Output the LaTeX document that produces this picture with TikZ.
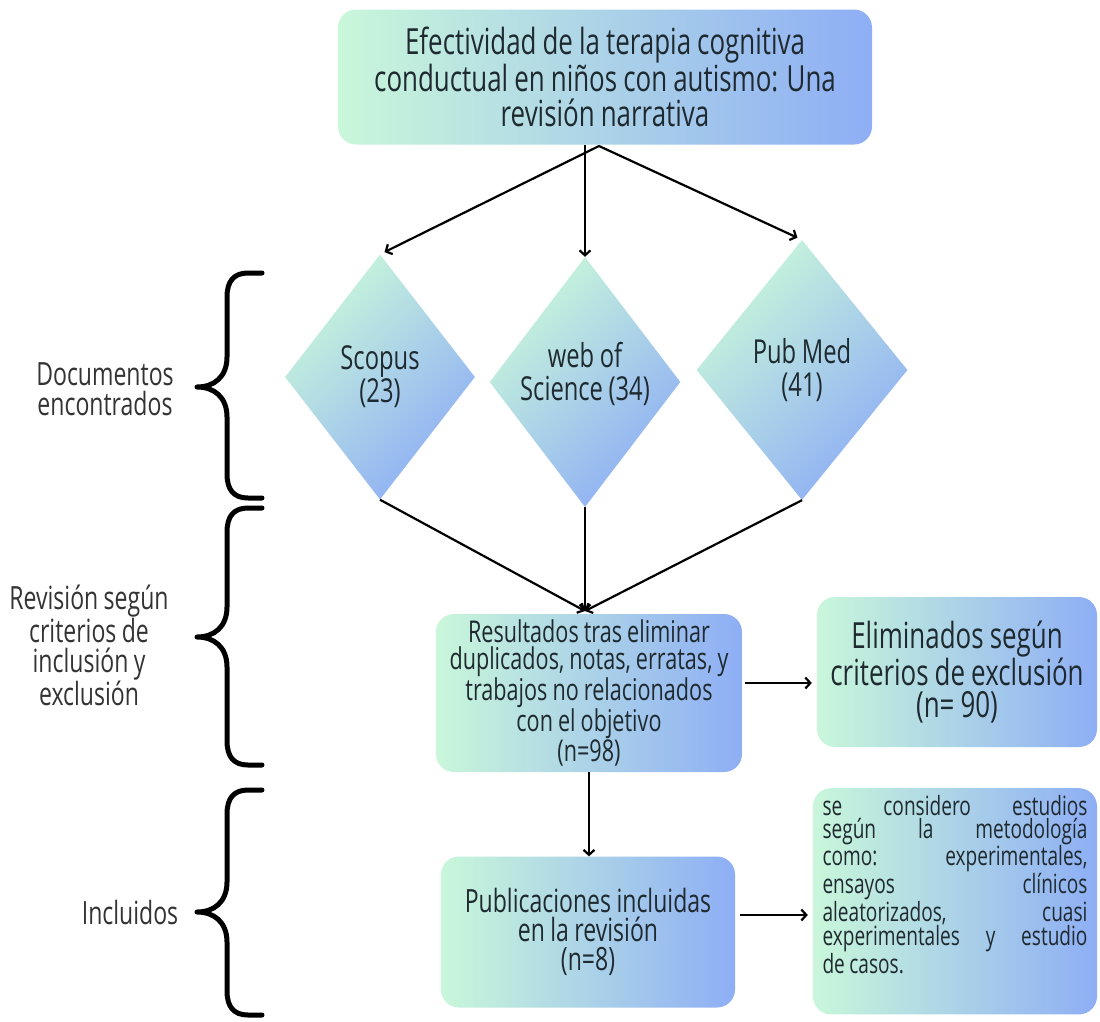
\documentclass[tikz,border=0pt]{standalone}
\usepackage{fontspec}
\setmainfont{Open Sans}[FakeStretch=0.72, WordSpace=0.9]
\usetikzlibrary{arrows.meta}
\usetikzlibrary{shapes.geometric}

\definecolor{mint}{HTML}{C9F7DA}
\definecolor{sky}{HTML}{8EAEF5}
\definecolor{ink}{HTML}{1F2A30}
\definecolor{labelgray}{HTML}{333333}

\tikzset{
  box/.style={rectangle, rounded corners=18pt, left color=mint, right color=sky, text=ink, align=center, inner sep=4pt},
  base/.style={diamond, aspect=0.77, top color=mint, bottom color=sky, shading angle=45, text=ink, align=center, inner sep=0pt, font=\fontsize{33}{33}\selectfont},
  arr/.style={line width=2.2pt, -{Straight Barb[length=5pt,width=11pt]}},
  brace/.style={line width=5pt, line cap=round, line join=round},
  side/.style={text=labelgray, align=center, font=\fontsize{32}{30}\selectfont},
}

\begin{document}
\begin{tikzpicture}[x=1pt, y=-1pt]
  \fill[white] (0,0) rectangle (1100,1021);
  \useasboundingbox (0,0) rectangle (1100,1021);

  % title
  \node[box, minimum width=534pt, minimum height=135pt, font=\fontsize{36}{35}\selectfont] (title) at (605,77) {Efectividad de la terapia cognitiva\\conductual en niños con autismo: Una\\revisión narrativa};

  % databases
  \node[base, minimum width=190pt, minimum height=245pt] (scopus) at (380,377) {Scopus\\(23)};
  \node[base, minimum width=190pt, minimum height=250pt] (wos) at (585,382) {web of\\Science (34)\\[-12pt]};
  \node[base, minimum width=211pt, minimum height=260pt] (pubmed) at (802,370) {Pub Med\\(41)};

  \coordinate (apex) at (599,146);
  \coordinate (merge) at (585,611);

  % screening
  \node[box, minimum width=306pt, minimum height=158pt, font=\fontsize{30}{27}\selectfont] (results) at (589,693) {Resultados tras eliminar\\duplicados, notas, erratas, y\\trabajos no relacionados\\con el objetivo\\(n=98)};
  \node[box, minimum width=280pt, minimum height=150pt, inner xsep=3pt, font=\fontsize{36}{32}\selectfont] (elim) at (957,672) {Eliminados según\\criterios de exclusión\\(n= 90)};

  % included
  \node[box, minimum width=294pt, minimum height=151pt, font=\fontsize{32}{29}\selectfont] (pub) at (588,932) {Publicaciones incluidas\\en la revisión\\(n=8)};
  \node[box, anchor=north, text width=265pt, inner xsep=9.5pt, inner ysep=7pt, align=justify, font=\fontsize{26.5}{23}\selectfont] (criteria) at (955,788) {\tolerance=10000 se considero estudios\linebreak según la metodología\linebreak como: experimentales,\linebreak ensayos clínicos\linebreak aleatorizados, cuasi\linebreak experimentales y estudio\linebreak de casos.\par\vspace*{34pt}};

  % connectors
  \draw[arr, shorten >=5pt] (apex) -- (scopus.north);
  \draw[arr] (title.south -| wos.north) -- (wos.north);
  \draw[arr, shorten >=5pt] (apex) -- (pubmed.north);
  \draw[arr] (scopus.south) -- (merge);
  \draw[arr] (wos.south) -- (merge);
  \draw[arr] (pubmed.south) -- (merge);
  \draw[arr, shorten <=3pt, shorten >=5pt] ([yshift=10pt]results.east) -- ([yshift=10pt]results.east -| elim.west);
  \draw[arr] (results.south) -- (results.south |- pub.north);
  \draw[arr, shorten <=5pt, shorten >=5pt] ([yshift=17pt]pub.east) -- ([yshift=17pt]pub.east -| criteria.west);

  % stages
  \foreach \ytop/\ytip/\ybot in {273/387/498, 508/637/765, 790/912/1015} {
    \draw[brace] (262,\ytop) -- (248,\ytop) .. controls (234,\ytop) and (227,\ytop+8) .. (227,\ytop+24)
      -- (227,\ytip-30) .. controls (227,\ytip-10) and (214,\ytip) .. (197,\ytip)
      .. controls (214,\ytip) and (227,\ytip+10) .. (227,\ytip+30)
      -- (227,\ybot-24) .. controls (227,\ybot-8) and (234,\ybot) .. (248,\ybot) -- (262,\ybot);
  }
  \node[side] (found) at (105,389) {Documentos\\encontrados};
  \node[side] (review) at (89,645) {Revisión según\\criterios de\\inclusión y\\exclusión};
  \node[side] (included) at (130,912) {Incluidos};
\end{tikzpicture}
\end{document}
